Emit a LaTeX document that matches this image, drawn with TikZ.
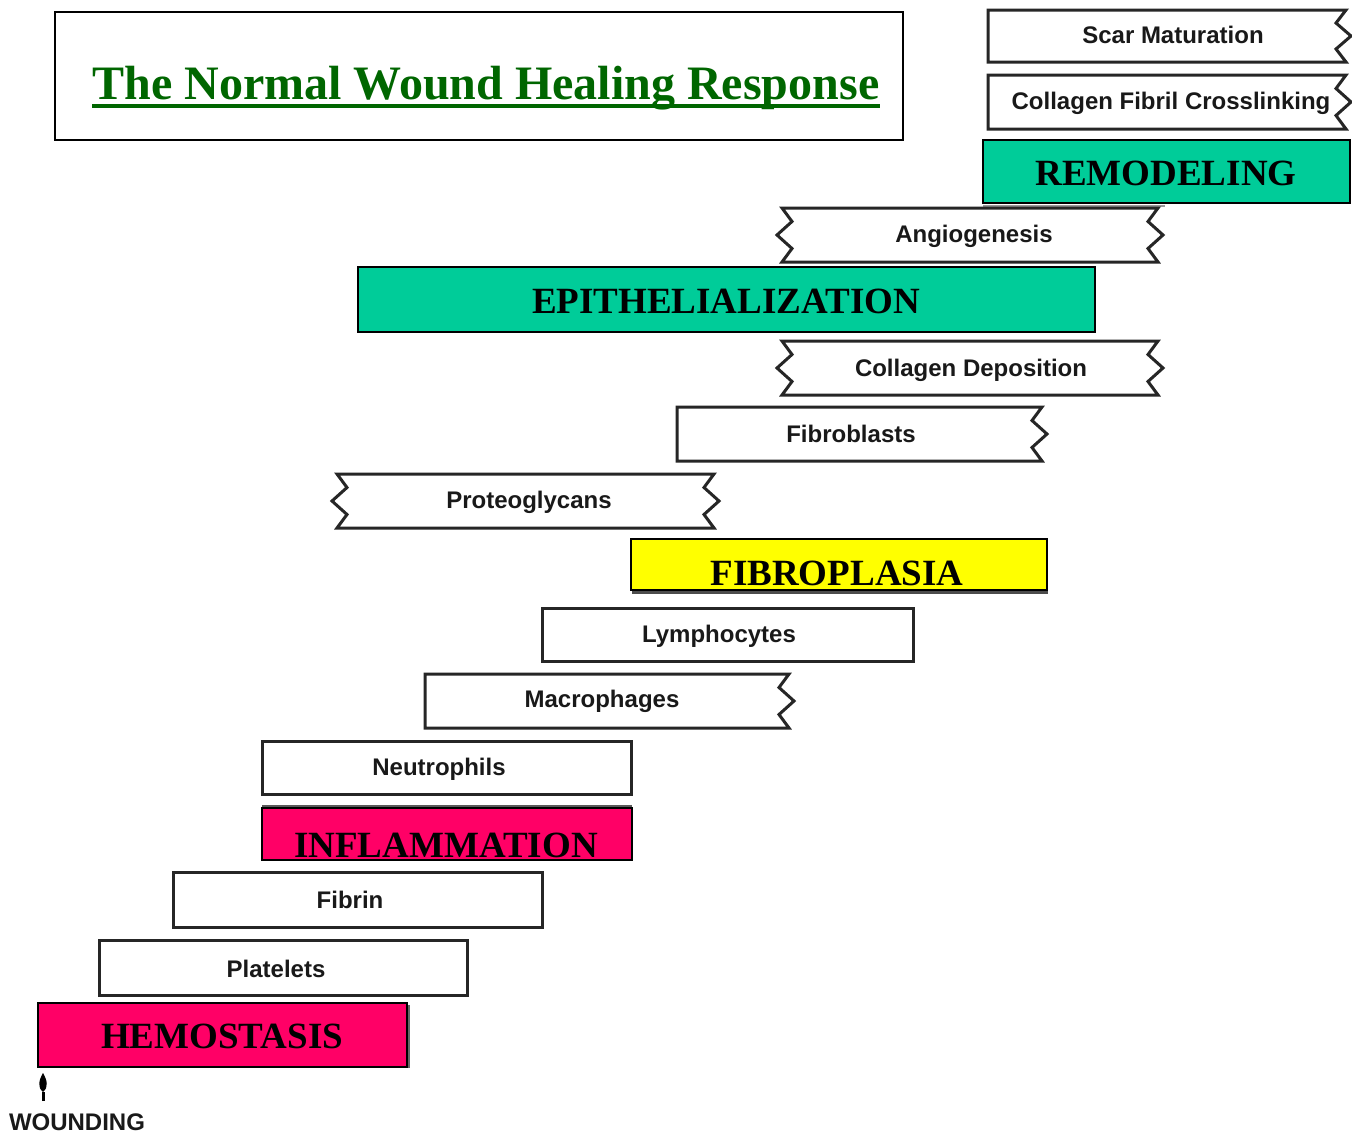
\documentclass[tikz,border=0pt]{standalone}
\usepackage{fontspec}
\setmainfont{Liberation Serif}
\newfontfamily\lsans{Liberation Sans}
\usetikzlibrary{arrows.meta}
\definecolor{tealph}{RGB}{0,204,153}
\definecolor{magph}{RGB}{255,0,102}
\definecolor{yelph}{RGB}{255,255,0}
\definecolor{ttlgreen}{RGB}{0,102,0}
\begin{document}
\begin{tikzpicture}[x=1pt,y=-1pt,
  bandline/.style={draw=black!85,line width=3pt,fill=white,line join=miter},
  phasebox/.style={draw=black,line width=1.8pt},
  lab/.style={font=\lsans\bfseries\fontsize{24}{28}\selectfont,inner sep=0pt,anchor=base,text=black!90},
  phase/.style={font=\bfseries\fontsize{37}{42}\selectfont,inner sep=0pt,anchor=base},
  rzig/.style={insert path={-- ++(-10,#1) -- ++(15,#1) -- ++(-15,#1) -- ++(10,#1)}},
  lzig/.style={insert path={-- ++(10,-#1) -- ++(-15,-#1) -- ++(15,-#1) -- ++(-10,-#1)}},
]
\useasboundingbox[fill=white] (0,0) rectangle (1352,1135);

% title
\draw[black,line width=2pt] (55,12) rectangle (903,140);
\node[font=\bfseries\fontsize{48}{54}\selectfont,text=ttlgreen,inner sep=0pt,anchor=base] (title) at (486,99) {The Normal Wound Healing Response};
\draw[ttlgreen,line width=4pt] ([yshift=-6.5pt]title.base west) -- ([yshift=-6.5pt]title.base east);

% remodeling stage
\draw[bandline] (988,10) -- (1346,10) [rzig=13] -- (988,62) -- cycle;
\node[lab] (scar) at (1173,43) {Scar Maturation};
\draw[bandline] (988,75) -- (1346,75) [rzig=13.5] -- (988,129) -- cycle;
\node[lab] (xlink) at (1171,109) {Collagen Fibril Crosslinking};
\draw[black!40,line width=2pt] (983,206) -- (1165,206);
\draw[phasebox,fill=tealph] (983,140) rectangle (1350,203);
\node[phase] (remod) at (1166,185) {REMODELING};

% angiogenesis
\draw[bandline] (782,208) -- (1158,208) [rzig=13.5] -- (782,262) [lzig=13.5] -- cycle;
\node[lab] (angio) at (974,242) {Angiogenesis};

% epithelialization
\draw[phasebox,line width=1.4pt,fill=tealph] (358,267) rectangle (1095,332);
\node[phase] (epith) at (726,313) {EPITHELIALIZATION};

% collagen deposition
\draw[bandline] (782,341) -- (1158,341) [rzig=13.5] -- (782,395) [lzig=13.5] -- cycle;
\node[lab] (coldep) at (971,376) {Collagen Deposition};

% fibroblasts
\draw[bandline] (677,407) -- (1042,407) [rzig=13.5] -- (677,461) -- cycle;
\node[lab] (fibro) at (851,442) {Fibroblasts};

% proteoglycans
\draw[bandline] (337,474) -- (714,474) [rzig=13.5] -- (337,528) [lzig=13.5] -- cycle;
\node[lab] (proteo) at (529,508) {Proteoglycans};

% fibroplasia
\draw[black!70,line width=3pt] (632,592.5) -- (1048,592.5);
\draw[phasebox,fill=yelph] (631,539) rectangle (1047,590);
\node[phase] (fibropl) at (837,585) {FIBROPLASIA};

% lymphocytes
\draw[bandline] (542,608) rectangle (913,661);
\node[lab] (lymph) at (719,642) {Lymphocytes};

% macrophages
\draw[bandline] (425,674) -- (789,674) [rzig=13.5] -- (425,728) -- cycle;
\node[lab] (macro) at (602,707) {Macrophages};

% neutrophils
\draw[bandline] (262,741) rectangle (631,794);
\node[lab] (neutro) at (439,775) {Neutrophils};

% inflammation
\draw[black!65,line width=3pt] (262,806.5) -- (632,806.5);
\draw[phasebox,fill=magph] (262,808) rectangle (632,860);
\node[phase] (inflam) at (446,857) {INFLAMMATION};

% fibrin
\draw[bandline] (173,872) rectangle (542,927);
\node[lab] (fibrin) at (350,908) {Fibrin};

% platelets
\draw[bandline] (99,940) rectangle (467,995);
\node[lab] (plate) at (276,977) {Platelets};

% hemostasis
\draw[black!60,line width=2pt] (409,1005) -- (409,1068);
\draw[phasebox,fill=magph] (38,1003) rectangle (407,1067);
\node[phase] (hemo) at (222,1048) {HEMOSTASIS};

% wounding
\node[lab] (wound) at (77,1130) {WOUNDING};
\coordinate (wtail) at (43,1101);
\coordinate (wtip) at (43,1073);
\coordinate (whead) at (43,1092);
\draw[black,line width=3pt] (wtail) -- (whead);
\fill[black] (wtip) .. controls (47,1080) and (49,1087) .. (whead) .. controls (37,1087) and (39,1080) .. (wtip) -- cycle;
\end{tikzpicture}
\end{document}
